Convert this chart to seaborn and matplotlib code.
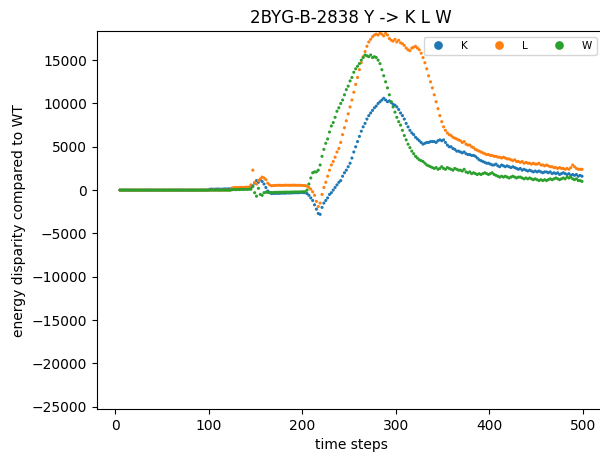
import numpy as np
import pandas as pd
import matplotlib
matplotlib.use("Agg")
import matplotlib.pyplot as plt
import seaborn as sns

# time steps sampled every 2 steps, 5 .. 499
time_steps = list(range(5, 500, 2))

# K (blue)
k_values = (
    [0] * 48
    + [100, 120, 100, 110, 130, 120, 100, 120, 140, 130,
       150, 140, 160, 150, 170, 160, 180, 200, 190, 210, 220, 240]
    + [300, 500, 800, 1100, 900, 1200, 1000, 700, 300, -100, -300]
    + [-400, -390, -380, -370, -380, -360, -350, -360, -340, -330,
       -340, -320, -310, -300, -310, -290, -280, -290, -300]
    + [-400, -600, -900, -1200, -1700, -2200, -2700, -2800, -2000, -1500,
       -1200, -900, -500, -300, 0, 300, 600, 900, 1100, 1600,
       2000, 2300, 2700, 3100, 3700, 4400, 5000, 5600, 6200, 6800,
       7300, 7700, 8200, 8600, 8900, 9200, 9500, 9700, 10000, 10200,
       10400, 10600, 10400, 10200, 10300, 10100, 9900, 9800, 9600, 9300,
       8900, 8600, 8200, 7700, 7300, 6900, 6600, 6400, 6100, 5900,
       5700, 5500, 5300, 5400, 5500, 5500, 5600, 5600]
    + [5600, 5500, 5700, 5800, 5700, 5800, 5500, 5200, 5000, 5000,
       4800, 4700, 4500, 4500, 4400, 4300, 4400, 4200, 4100, 4100,
       4000, 4000, 3900, 3700, 3500, 3400, 3300, 3200, 3100, 3100,
       3000, 2900, 2900, 3000, 2800, 2700, 2900, 2800, 2700, 2800,
       2700, 2600, 2700, 2600, 2500, 2400, 2500, 2300, 2400, 2300,
       2200, 2300, 2200, 2100, 2200, 2100, 2200, 2100, 2000, 2100,
       2100, 2000, 2100, 1900, 2000, 1900, 2000, 1800, 1900, 2000,
       1900, 1800, 1900, 1700, 1800, 1700, 1800, 1600, 1700, 1600]
)

# L (orange)
l_values = (
    [0] * 48
    + [0] * 12
    + [250, 280, 300, 290, 310, 320, 300, 330, 340, 350]
    + [600, 2300, 900, 700, 1100, 1300, 1500, 1400, 1200, 800, 600]
    + [500, 520, 540, 550, 560, 550, 540, 560, 570, 560,
       550, 560, 570, 560, 550, 560, 540, 530, 520]
    + [460, 300, 100, -200, -600, -1300, -1900, -1500, -500, 300,
       900, 1600, 2300, 2900, 3300, 3800, 4400, 4800, 5500, 6400,
       7200, 8000, 8800, 9600, 10400, 11300, 12200, 13000, 13900, 14700,
       15400, 16000, 16600, 17100, 17400, 17700, 17900, 18000, 17900, 18100,
       18000, 17800, 18100, 17900, 17500, 17300, 17200, 17400, 17100, 17300,
       17000, 16900, 16700, 16400, 16200, 16100, 16400, 16500, 16600, 16400,
       16200, 15800, 15300, 14700, 14000, 13200, 12500, 11800]
    + [11000, 10200, 9400, 8600, 7900, 7300, 6900, 6600, 6400, 6300,
       6100, 6000, 5900, 5800, 5700, 5500, 5600, 5300, 5200, 5200,
       5000, 4900, 4700, 4600, 4500, 4400, 4300, 4200, 4100, 4100,
       4000, 4000, 3900, 3900, 3800, 3800, 3700, 3800, 3700, 3600,
       3600, 3500, 3400, 3500, 3300, 3300, 3200, 3300, 3100, 3200,
       3100, 3100, 3000, 3100, 3000, 3000, 3100, 2900, 2900, 2800,
       2900, 2800, 2700, 2700, 2600, 2600, 2500, 2600, 2500, 2500,
       2400, 2500, 2400, 2600, 2900, 2700, 2500, 2400, 2400, 2400]
)

# W (green)
w_values = (
    [0] * 48
    + [0] * 12
    + [50, 60, 50, 70, 60, 80, 70, 90, 80, 100]
    + [100, 400, -300, -700, 200, -500, -600, -300, -250, -260, -270]
    + [-280, -270, -260, -260, -250, -250, -240, -240, -230, -240,
       -230, -220, -220, -210, -220, -200, -200, -190, -180]
    + [0, 700, 1400, 2000, 2100, 2100, 2300, 2900, 3900, 4700,
       5400, 5900, 6700, 7400, 7800, 8400, 9100, 9500, 10000, 10400,
       11000, 11600, 12000, 12600, 13000, 13600, 14000, 14300, 14600, 15000,
       15300, 15600, 15500, 15400, 15600, 15300, 15400, 15300, 15000, 14600,
       13900, 13200, 12500, 11800, 11000, 10200, 9600, 9000, 8400, 7900,
       7500, 6900, 6300, 5800, 5300, 4900, 4500, 4200, 3900, 3700,
       3500, 3400, 3300, 3100, 2900, 2800, 2700, 2600]
    + [2500, 2600, 2400, 2500, 2700, 2500, 2400, 2600, 2500, 2400,
       2300, 2500, 2400, 2300, 2300, 2200, 2400, 2100, 2000, 2100,
       1900, 2000, 1900, 1800, 1900, 1800, 1900, 2000, 1900, 1800,
       1900, 2000, 1800, 1700, 1600, 1500, 1600, 1500, 1600, 1500,
       1400, 1500, 1600, 1500, 1400, 1500, 1500, 1400, 1300, 1400,
       1300, 1400, 1300, 1200, 1300, 1200, 1100, 1200, 1100, 1200,
       1100, 1200, 1300, 1200, 1300, 1400, 1300, 1200, 1300, 1400,
       1300, 1500, 1400, 1500, 1300, 1200, 1300, 1100, 1100, 1000]
)

mutations = ["K", "L", "W"]

df = pd.concat(
    [
        pd.DataFrame({"t": time_steps, "energy": vals, "mut": m})
        for m, vals in zip(mutations, [k_values, l_values, w_values])
    ],
    ignore_index=True,
)

fig = plt.figure(figsize=(6, 4.58), dpi=100)
# axes run slightly past the right edge, as in the cropped original
ax = fig.add_axes([0.161, 0.107, 0.848, 0.825])

sns.scatterplot(
    data=df, x="t", y="energy", hue="mut", palette="tab10",
    s=5, linewidth=0, ax=ax,
)

ax.set_xlim(-20, 524)
ax.set_ylim(-25270, 18350)
ax.set_title("2BYG-B-2838 Y -> K L W")
ax.set_xlabel("time steps")
ax.set_ylabel("energy disparity compared to WT")

handles, labels = ax.get_legend_handles_labels()
ax.legend(
    handles, labels, loc="upper left", bbox_to_anchor=(0.643, 0.985),
    borderaxespad=0, ncol=3, fontsize=7.5,
    markerscale=2.8, columnspacing=2.0, handletextpad=1.2,
)

fig.savefig("out.png", dpi=100)
